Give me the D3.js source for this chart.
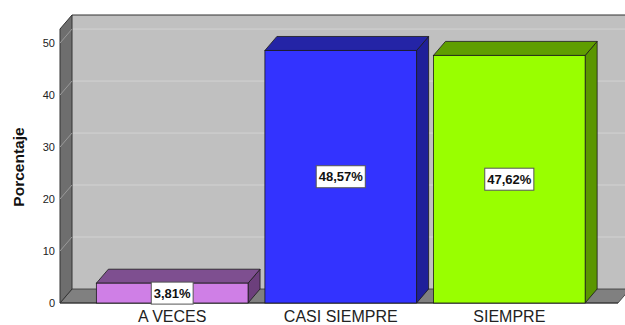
<!DOCTYPE html>
<html>
<head>
<meta charset="utf-8">
<script src="https://cdn.jsdelivr.net/npm/d3@7"></script>
<style>
  html, body { margin: 0; padding: 0; background: #fff; }
  svg { display: block; font-family: "Liberation Sans", Arial, sans-serif; }
</style>
</head>
<body>
<svg id="chart" width="625" height="325"></svg>
<script>
// Response categories and their percentages
const categories = ["A VECES", "CASI SIEMPRE", "SIEMPRE"];
const values = [3.81, 48.57, 47.62];
const valueLabels = ["3,81%", "48,57%", "47,62%"];
const yTicks = [0, 10, 20, 30, 40, 50];

// Fill colours per bar: front face, top face, side face
const frontColors = ["#cf7fe6", "#3333ff", "#99ff00"];
const topColors = ["#7e4f90", "#2424a6", "#5f9e00"];
const sideColors = ["#6c3f7c", "#1f1f99", "#5a9600"];

const svg = d3.select("#chart");

// 3D depth offset of the box
const DX = 12, DY = -14;

const x = d3.scaleBand().domain(categories).range([79.5, 602]).padding(0.1);
const y = d3.scaleLinear().domain([0, 52.7]).range([303, 29]);

const xLeft = 60, xRight = 618;
const y0 = y(0), yTop = y(52.7);

const poly = pts => "M" + pts.map(p => p.join(",")).join("L") + "Z";

// Back wall
svg.append("path")
  .attr("d", poly([[xLeft + DX, yTop + DY], [xRight + DX, yTop + DY], [xRight + DX, y0 + DY], [xLeft + DX, y0 + DY]]))
  .attr("fill", "#c0c0c0");

// Grid lines on the back wall
svg.selectAll(".grid").data(yTicks.filter(d => d > 0)).enter().append("line")
  .attr("x1", xLeft + DX).attr("x2", xRight + DX)
  .attr("y1", d => y(d) + DY).attr("y2", d => y(d) + DY)
  .attr("stroke", "#d2d2d2").attr("stroke-width", 1);

// Top border of the back wall
svg.append("line")
  .attr("x1", xLeft + DX).attr("x2", xRight + DX)
  .attr("y1", yTop + DY).attr("y2", yTop + DY)
  .attr("stroke", "#333").attr("stroke-width", 1.2);

// Floor
svg.append("path")
  .attr("d", poly([[xLeft, y0], [xRight, y0], [xRight + DX, y0 + DY], [xLeft + DX, y0 + DY]]))
  .attr("fill", "#808080").attr("stroke", "#333").attr("stroke-width", 0.8);

// Left wall
svg.append("path")
  .attr("d", poly([[xLeft, y0], [xLeft, yTop], [xLeft + DX, yTop + DY], [xLeft + DX, y0 + DY]]))
  .attr("fill", "#6e6e6e").attr("stroke", "#333").attr("stroke-width", 1);

// Tick lines across the left wall
svg.selectAll(".wallTick").data(yTicks.filter(d => d > 0)).enter().append("line")
  .attr("x1", xLeft).attr("x2", xLeft + DX)
  .attr("y1", d => y(d)).attr("y2", d => y(d) + DY)
  .attr("stroke", "#9a9a9a").attr("stroke-width", 1);

// Front baseline
svg.append("line")
  .attr("x1", xLeft).attr("x2", xRight).attr("y1", y0).attr("y2", y0)
  .attr("stroke", "#333").attr("stroke-width", 1);

// Bars
const bars = svg.selectAll(".bar").data(categories).enter().append("g");
bars.each(function (c, i) {
  const g = d3.select(this);
  const x0 = x(c), x1 = x(c) + x.bandwidth(), yt = y(values[i]);
  g.append("path")
    .attr("d", poly([[x1, yt], [x1 + DX, yt + DY], [x1 + DX, y0 + DY], [x1, y0]]))
    .attr("fill", sideColors[i]).attr("stroke", "#1a1a1a").attr("stroke-width", 0.8);
  g.append("path")
    .attr("d", poly([[x0, yt], [x1, yt], [x1 + DX, yt + DY], [x0 + DX, yt + DY]]))
    .attr("fill", topColors[i]).attr("stroke", "#1a1a1a").attr("stroke-width", 0.8);
  g.append("rect")
    .attr("x", x0).attr("y", yt).attr("width", x.bandwidth()).attr("height", y0 - yt)
    .attr("fill", frontColors[i]).attr("stroke", "#1a1a1a").attr("stroke-width", 0.8);
});

// Value labels in boxes, centred on each bar's front face
bars.each(function (c, i) {
  const g = d3.select(this);
  const cx = x(c) + x.bandwidth() / 2;
  const cy = (y(values[i]) + y0) / 2;
  const t = g.append("text")
    .attr("x", cx).attr("y", cy + 4.5)
    .attr("text-anchor", "middle")
    .attr("font-size", "13px").attr("font-weight", "bold").attr("fill", "#111")
    .text(valueLabels[i]);
  const w = t.node().getComputedTextLength() + 5;
  g.insert("rect", "text")
    .attr("x", cx - w / 2).attr("y", cy - 11).attr("width", w).attr("height", 22)
    .attr("fill", "#fff").attr("stroke", "#555").attr("stroke-width", 1);
});

// Y axis tick labels
svg.selectAll(".ytick").data(yTicks).enter().append("text")
  .attr("x", 55).attr("y", d => y(d) + 4)
  .attr("text-anchor", "end").attr("font-size", "11px").attr("fill", "#222")
  .text(d => d);

// Category labels
svg.selectAll(".xlab").data(categories).enter().append("text")
  .attr("x", d => x(d) + x.bandwidth() / 2).attr("y", 322)
  .attr("text-anchor", "middle").attr("font-size", "16px").attr("fill", "#222")
  .text(d => d);

// Y axis title
svg.append("text")
  .attr("transform", "translate(24,167) rotate(-90)")
  .attr("text-anchor", "middle").attr("font-size", "15.5px").attr("font-weight", "bold").attr("fill", "#111")
  .text("Porcentaje");
</script>
</body>
</html>
